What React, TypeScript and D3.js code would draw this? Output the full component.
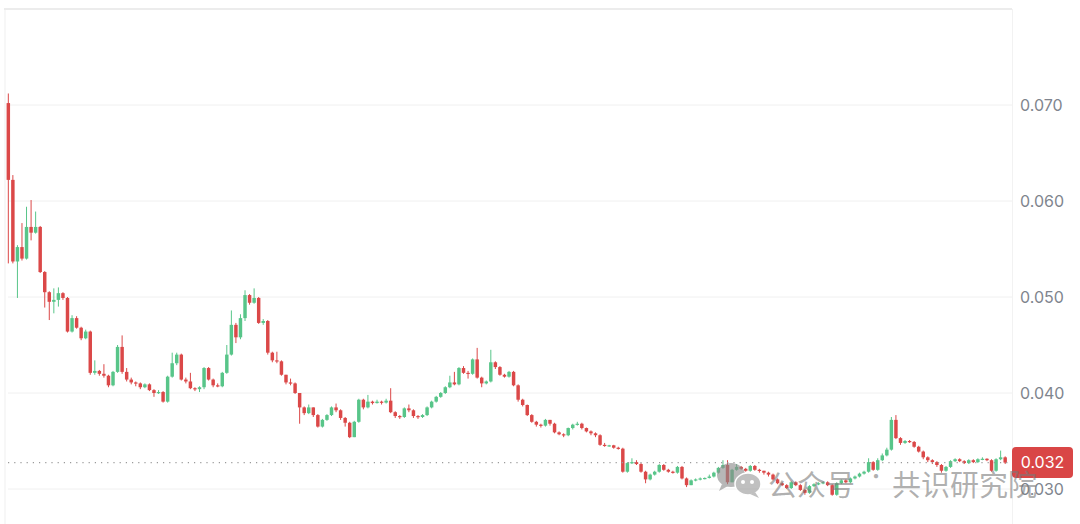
import React from 'react';
import * as d3 from 'd3';

// prices in thousandths (62.2 => 0.0622)
const firstOpen = 70.2;

const closes = [
  62.2, 53.7, 55.2, 54.0, 57.3, 56.7, 57.3, 52.6, 50.5, 49.5,
  49.7, 50.4, 49.9, 46.4, 47.8, 46.8, 45.7, 46.4, 42.1, 42.3,
  42.0, 41.8, 40.8, 42.2, 44.8, 42.2, 41.4, 41.1, 41.0, 40.6,
  40.9, 40.3, 40.0, 40.1, 39.1, 41.7, 43.1, 44.0, 41.4, 41.2,
  40.5, 40.4, 40.6, 42.6, 41.4, 40.8, 40.7, 42.1, 44.0, 47.1,
  45.8, 47.8, 50.2, 49.4, 49.9, 47.3, 47.5,
  44.2, 43.4, 43.3, 41.9, 41.1, 41.0, 40.0, 38.5, 37.9, 38.5,
  37.7, 36.5, 37.2, 37.7, 38.5, 38.2, 37.4, 36.9, 35.4, 37.0,
  39.3, 38.5, 39.1, 38.95, 39.1, 39.0, 39.2, 38.0, 37.6, 37.5,
  38.4, 38.2, 37.6, 37.5, 37.7, 38.5, 39.1, 39.6, 40.0, 40.6,
  41.1, 40.9, 42.6, 42.1, 42.0, 43.5, 41.6, 41.0, 41.2, 43.2,
  42.7, 41.9, 41.7, 42.2, 40.8,
  39.3, 38.75, 37.7, 37.0, 36.7, 36.6, 37.2, 36.8, 35.9, 35.7,
  35.6, 36.35, 36.7, 36.8, 36.35, 36.0, 35.8, 35.6, 34.6, 34.5,
  34.55, 34.3, 34.2, 31.8, 32.7, 32.8, 32.6, 31.8, 31.0, 31.5,
  31.8, 32.5, 32.0, 31.8, 31.7, 32.3, 31.1, 30.4, 30.9, 31.0,
  31.1, 31.15, 31.3, 31.7, 32.2, 32.5, 30.7, 32.0, 32.3, 32.1,
  31.9, 32.4, 32.0, 31.9,
  31.7, 31.5, 31.0, 30.6, 30.4, 30.1, 30.7, 30.4, 29.9, 29.6,
  30.3, 30.5, 30.6, 30.7, 30.4, 29.4, 30.6, 30.9, 30.7, 31.1,
  31.3, 31.6, 31.8, 32.8, 32.0, 33.0, 33.5, 34.1, 37.2, 35.3,
  34.8, 35.0, 34.9, 34.4, 33.9, 33.3, 33.0, 32.8, 32.5, 31.9,
  32.3, 32.9, 33.1, 32.9, 32.7, 33.0, 32.8, 33.1, 33.15, 33.0,
  31.9, 33.1, 33.3, 32.75,
];

const highs = [
  71.2, 62.7, 55.4, 57.7, 59.4, 60.1, 58.9, 57.4, 52.7, 50.6,
  50.9, 51.0, 50.5, 50.0, 48.1, 48.0, 46.9, 46.6, 46.5, 43.4,
  42.4, 43.0, 41.9, 42.3, 45.0, 46.0, 42.6, 41.6, 41.2, 41.1,
  41.0, 41.0, 40.4, 40.3, 40.2, 41.8, 44.2, 44.2, 44.1, 41.6,
  42.1, 40.6, 40.7, 42.7, 42.7, 41.5, 41.0, 42.2, 45.0, 48.6,
  47.3, 48.2, 50.7, 50.3, 50.9, 50.0, 47.7,
  47.6, 44.3, 44.3, 43.4, 41.9, 41.5, 41.1, 40.0, 38.6, 38.8,
  38.5, 37.8, 37.3, 37.8, 38.6, 38.9, 38.3, 37.5, 37.0, 37.1,
  39.4, 39.4, 39.8, 39.2, 39.3, 39.2, 39.4, 40.5, 38.1, 37.7,
  38.5, 38.8, 38.3, 37.7, 37.8, 38.6, 39.2, 39.7, 40.1, 40.7,
  41.8, 42.2, 42.7, 42.8, 42.3, 43.6, 44.7, 41.7, 41.3, 44.5,
  43.3, 42.8, 42.0, 42.3, 42.3,
  40.9, 39.4, 38.8, 37.8, 37.1, 36.8, 37.3, 37.2, 36.9, 36.0,
  35.8, 36.4, 36.8, 37.0, 36.9, 36.4, 36.1, 35.9, 35.7, 34.8,
  34.6, 34.6, 34.4, 34.3, 32.8, 33.2, 33.0, 32.7, 31.9, 31.6,
  31.9, 32.6, 32.6, 32.1, 31.9, 32.4, 32.4, 31.2, 31.0, 31.1,
  31.2, 31.2, 31.5, 31.8, 32.3, 33.0, 33.0, 32.1, 32.6, 32.4,
  32.2, 32.5, 32.5, 32.1,
  31.9, 31.8, 31.6, 31.1, 30.7, 30.5, 30.8, 30.8, 30.5, 30.0,
  30.4, 30.6, 30.7, 30.8, 30.8, 30.5, 30.7, 31.0, 31.0, 31.2,
  31.4, 31.7, 31.9, 33.2, 32.9, 33.2, 33.7, 34.3, 37.5, 37.7,
  35.4, 35.1, 35.1, 35.0, 34.5, 34.0, 33.4, 33.1, 32.9, 32.6,
  32.4, 33.0, 33.2, 33.2, 33.0, 33.1, 33.1, 33.2, 33.3, 33.2,
  33.1, 33.2, 34.0, 33.4,
];

const lows = [
  53.5, 53.5, 49.9, 53.8, 53.9, 55.9, 56.6, 52.5, 48.9, 47.6,
  48.3, 49.0, 49.7, 46.3, 46.3, 46.7, 45.5, 45.6, 41.9, 41.9,
  41.8, 41.6, 40.6, 40.7, 42.1, 42.0, 41.2, 40.9, 40.7, 40.4,
  40.5, 40.2, 39.6, 39.9, 39.0, 39.0, 41.6, 42.9, 41.3, 41.0,
  40.4, 40.2, 40.1, 40.4, 41.3, 40.6, 40.6, 40.6, 42.0, 43.9,
  45.2, 45.6, 47.5, 49.2, 49.3, 47.2, 47.1,
  44.0, 43.2, 43.1, 41.8, 40.9, 40.8, 39.9, 36.8, 37.7, 37.8,
  37.5, 36.4, 36.4, 37.1, 37.6, 38.0, 37.2, 36.5, 35.3, 35.4,
  36.9, 38.3, 38.4, 38.8, 38.9, 38.8, 38.9, 37.9, 37.4, 37.3,
  37.4, 38.0, 37.4, 37.3, 37.4, 37.6, 38.4, 39.0, 39.5, 39.9,
  40.5, 40.8, 40.8, 42.0, 41.5, 41.9, 41.5, 40.6, 40.9, 41.1,
  42.5, 41.8, 41.6, 41.6, 40.7,
  39.1, 38.6, 37.6, 36.9, 36.5, 36.4, 36.5, 36.6, 35.8, 35.6,
  35.4, 35.5, 36.2, 36.6, 36.2, 35.9, 35.6, 35.4, 34.5, 34.4,
  34.4, 34.2, 34.1, 31.7, 31.7, 32.6, 32.5, 31.7, 30.6, 30.9,
  31.4, 31.7, 31.9, 31.7, 31.6, 31.6, 31.0, 30.2, 30.4, 30.8,
  30.9, 31.0, 31.1, 31.2, 31.6, 32.1, 30.5, 30.7, 31.9, 32.0,
  31.8, 31.8, 31.9, 31.7,
  31.5, 31.3, 30.9, 30.5, 30.3, 30.0, 30.0, 30.3, 29.8, 29.4,
  29.5, 30.2, 30.4, 30.5, 30.3, 29.3, 29.3, 30.5, 30.6, 30.6,
  31.0, 31.2, 31.5, 31.7, 31.9, 31.9, 32.9, 33.4, 34.0, 35.2,
  34.6, 34.7, 34.8, 34.3, 33.8, 33.1, 32.8, 32.6, 32.3, 31.7,
  31.8, 32.2, 32.8, 32.8, 32.6, 32.6, 32.7, 32.7, 33.0, 32.9,
  31.8, 31.8, 33.0, 32.6,
];

const gridTicks = [30, 40, 50, 60, 70, 80];
const labelTicks = [30, 40, 50, 60, 70];

const W = 1080;
const H = 524;
const RED = '#db4848';
const GREEN = '#58c589';

export default function App() {
  const n = closes.length;
  const opens = closes.map((_, i) => (i === 0 ? firstOpen : closes[i - 1]));

  const x = d3.scaleBand<number>().domain(d3.range(n)).range([5.5, 1008]).padding(0.24);
  const y = d3.scaleLinear().domain([30, 70]).range([489, 105]);
  const fmt = d3.format('.3f');

  const lastClose = closes[n - 1];
  const lastY = y(lastClose);
  const bw = x.bandwidth();

  return (
    <div style={{ position: 'fixed', left: 0, top: 0 }}>
      <svg width={W} height={H} style={{ display: 'block', background: '#fff' }}>
        {/* frame */}
        <line x1={5} x2={5} y1={y(80)} y2={H} stroke="#efefef" strokeWidth={1} />
        <line x1={1012.5} x2={1012.5} y1={y(80)} y2={H} stroke="#f2f2f2" strokeWidth={1} />

        {/* grid */}
        {gridTicks.map(t => (
          <line key={t} x1={t === 80 ? 4 : 8} x2={1012} y1={y(t)} y2={y(t)}
            stroke={t === 80 ? '#ececec' : '#f0f0f0'} strokeWidth={t === 80 ? 2 : 1} />
        ))}

        {/* axis labels */}
        {labelTicks.map(t => (
          <text key={t} x={1020} y={y(t)} dy="0.35em" fontSize={16}
            fontFamily="Inter, 'Noto Sans', sans-serif" fill="#80858e">
            {fmt(t / 1000)}
          </text>
        ))}

        {/* candles */}
        {closes.map((c, i) => {
          const o = opens[i];
          const up = c >= o;
          const color = up ? GREEN : RED;
          const cx = (x(i) ?? 0) + bw / 2;
          const hi = Math.max(highs[i], o, c);
          const lo = Math.min(lows[i], o, c);
          const top = y(Math.max(o, c));
          const bot = y(Math.min(o, c));
          return (
            <g key={i}>
              <line x1={cx} x2={cx} y1={y(hi)} y2={y(lo)} stroke={color} strokeWidth={1} />
              <rect x={x(i)} y={top} width={bw} height={Math.max(1.2, bot - top)} fill={color} />
            </g>
          );
        })}

        {/* last price line */}
        <line x1={8} x2={1012} y1={lastY} y2={lastY} stroke="#9a9a9a" strokeWidth={1.2}
          strokeDasharray="1.2 5" />

        {/* watermark */}
        <g opacity={0.62}>
          <ellipse cx={731} cy={475} rx={14} ry={12} fill="#8c8c8c" />
          <path d="M722 484 L719 491 L728 486 Z" fill="#8c8c8c" />
          <ellipse cx={748} cy={484} rx={13} ry={11} fill="#9a9a9a" stroke="#fff" strokeWidth={1.5} />
          <path d="M755 492 L759 498 L750 494 Z" fill="#9a9a9a" />
          <circle cx={743} cy={482} r={2} fill="#fff" />
          <circle cx={752} cy={482} r={2} fill="#fff" />
        </g>

        {/* last price tag */}
        <rect x={1012} y={lastY - 15.5} width={61} height={31} rx={4} fill="#d94646" />
        <text x={1042.5} y={lastY} dy="0.36em" textAnchor="middle" fontSize={16}
          fontFamily="Inter, 'Noto Sans', sans-serif" fill="#fff">
          {fmt(Math.floor(lastClose) / 1000)}
        </text>

        <text x={768} y={496} fontSize={29} fontFamily="'Noto Sans CJK SC', sans-serif"
          fill="#7a7a7a" fillOpacity={0.6}>
          公众号
        </text>
        <text x={866} y={484} fontSize={20} fontFamily="'Noto Sans CJK SC', sans-serif"
          fill="#7a7a7a" fillOpacity={0.6}>
          ·
        </text>
        <text x={892} y={496} fontSize={29} fontFamily="'Noto Sans CJK SC', sans-serif"
          fill="#7a7a7a" fillOpacity={0.6}>
          共识研究院
        </text>
      </svg>
    </div>
  );
}
